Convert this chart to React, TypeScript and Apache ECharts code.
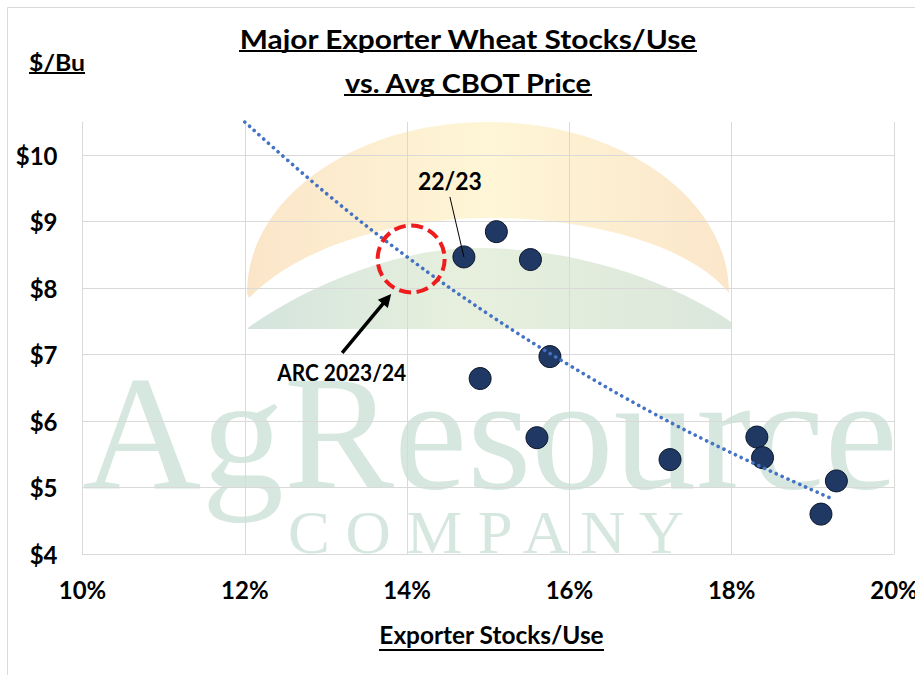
import React, { useEffect, useRef } from 'react';
import * as echarts from 'echarts';

// ---- data ----
const xTickValues = [10, 12, 14, 16, 18, 20];
const yTickValues = [4, 5, 6, 7, 8, 9, 10];
const stocksUse = [14.7, 15.1, 15.52, 15.76, 14.9, 15.6, 17.24, 18.31, 18.38, 19.29, 19.1];
const cbotPrice = [8.47, 8.85, 8.43, 6.97, 6.64, 5.75, 5.42, 5.76, 5.45, 5.1, 4.6];
const trendStocksUse = [12, 13, 14, 15, 16, 17, 18, 19.2];
const trendPrice = [10.5, 9.43, 8.47, 7.61, 6.84, 6.14, 5.52, 4.85];
const arcStocksUse = [14.05];
const arcPrice = [8.44];
const titleLines = ['Major Exporter Wheat Stocks/Use', 'vs. Avg CBOT Price'];
const yAxisTitle = '$/Bu';
const xAxisTitle = 'Exporter Stocks/Use';
const label2223 = '22/23';
const labelArc = 'ARC 2023/24';

const FONT = 'Lato, "Liberation Sans Narrow", "DejaVu Sans Condensed", sans-serif';
const SERIF = '"Liberation Serif", "DejaVu Serif", serif';
const WM = '#d6e7df';

const SUN_D =
  'M247 293 C247 198.6 354.9 122 488 122 C621.1 122 729 198.6 729 293 ' +
  'C690 245 590 218 489 218 C400 218 300 245 249 298 L247 293 Z';
const HILL_D = 'M248 328 C300 290 390 250 470 248 C570 246 670 280 731 322 L731 329 L248 329 Z';

try {
  echarts.graphic.registerShape('arcSun', echarts.graphic.extendPath(SUN_D, {}) as any);
  echarts.graphic.registerShape('arcHill', echarts.graphic.extendPath(HILL_D, {}) as any);
} catch (e) {
  /* already registered */
}

function measure(text: string, size: number, family: string, weight: string) {
  const ctx = document.createElement('canvas').getContext('2d')!;
  ctx.font = `${weight} ${size}px ${family}`;
  return ctx.measureText(text).width || 1;
}

function fitText(
  text: string,
  cx: number,
  cy: number,
  size: number,
  width: number,
  opts: { family?: string; weight?: string; fill?: string; z?: number; underlineY?: number } = {}
) {
  const family = opts.family || FONT;
  const weight = opts.weight || 'bold';
  const s = width / measure(text, size, family, weight);
  const els: any[] = [
    {
      type: 'text',
      x: cx,
      y: cy,
      scaleX: s,
      z: opts.z ?? 20,
      silent: true,
      style: {
        text,
        x: 0,
        y: 0,
        align: 'center',
        verticalAlign: 'middle',
        fontSize: size,
        fontFamily: family,
        fontWeight: weight,
        fill: opts.fill || '#000',
      },
    },
  ];
  if (opts.underlineY !== undefined) {
    els.push({
      type: 'line',
      z: opts.z ?? 20,
      silent: true,
      shape: { x1: cx - width / 2, y1: opts.underlineY, x2: cx + width / 2, y2: opts.underlineY },
      style: { stroke: '#000', lineWidth: 2 },
    });
  }
  return els;
}

export default function App() {
  const ref = useRef<HTMLDivElement>(null);

  useEffect(() => {
    if (!ref.current) return;
    document.body.style.margin = '0';
    const chart = echarts.init(ref.current, null, { renderer: 'svg' });

    const labelStyle = {
      color: '#000',
      fontWeight: 'bold' as const,
      fontSize: 24,
      fontFamily: FONT,
    };

    chart.setOption({
      animation: false,
      backgroundColor: '#fff',
      grid: { left: 82.5, right: 21, top: 122, bottom: 121, containLabel: false, outerBoundsMode: 'none' },
      xAxis: {
        type: 'value',
        min: xTickValues[0],
        max: xTickValues[xTickValues.length - 1],
        interval: 2,
        axisLine: { show: true, lineStyle: { color: '#d9d9d9', width: 1 } },
        axisTick: { show: false },
        splitLine: { show: true, lineStyle: { color: '#d9d9d9', width: 1 } },
        axisLabel: { ...labelStyle, margin: 23, formatter: (v: number) => `${v}%` },
      },
      yAxis: {
        type: 'value',
        min: yTickValues[0],
        max: 10.5,
        interval: 1,
        axisLine: { show: true, lineStyle: { color: '#d9d9d9', width: 1 } },
        axisTick: { show: false },
        splitLine: {
          show: true,
          lineStyle: {
            color: ['#d9d9d9', '#d9d9d9', '#d9d9d9', '#d9d9d9', '#d9d9d9', '#d9d9d9', '#d9d9d9', 'rgba(0,0,0,0)'],
            width: 1,
          },
        },
        axisLabel: {
          ...labelStyle,
          margin: 25,
          formatter: (v: number) => (yTickValues.includes(v) ? `$${v}` : ''),
        },
      },
      series: [
        {
          type: 'scatter',
          silent: true,
          z: 2,
          symbolSize: 22,
          itemStyle: { color: '#1f3864', borderColor: '#0b162b', borderWidth: 1, opacity: 1 },
          data: stocksUse.map((x, i) => [x, cbotPrice[i]]),
        },
        {
          type: 'line',
          silent: true,
          z: 3,
          smooth: 0.4,
          symbol: 'none',
          showSymbol: false,
          lineStyle: { color: '#4472c4', width: 3.6, type: [0.1, 6.3], cap: 'round' },
          data: trendStocksUse.map((x, i) => [x, trendPrice[i]]),
        },
        {
          type: 'scatter',
          silent: true,
          z: 4,
          symbolSize: 67,
          itemStyle: {
            color: 'rgba(0,0,0,0)',
            borderColor: '#ee1c1c',
            borderWidth: 4,
            borderType: [12, 5.5],
            opacity: 1,
          },
          data: arcStocksUse.map((x, i) => [x, arcPrice[i]]),
        },
      ],
    });

    const p2223 = chart.convertToPixel({ gridIndex: 0 }, [stocksUse[0], cbotPrice[0]]) as number[];
    const pArc = chart.convertToPixel({ gridIndex: 0 }, [arcStocksUse[0], arcPrice[0]]) as number[];

    // arrow geometry
    const tail = [pArc[0] - 69, pArc[1] + 94];
    const tip = [pArc[0] - 20, pArc[1] + 35];
    const dx = tip[0] - tail[0];
    const dy = tip[1] - tail[1];
    const len = Math.hypot(dx, dy);
    const ux = dx / len;
    const uy = dy / len;
    const headL = 13;
    const headW = 6.5;
    const base = [tip[0] - ux * headL, tip[1] - uy * headL];

    const sunGrad = new echarts.graphic.LinearGradient(0, 0, 1, 0, [
      { offset: 0, color: '#fbe5c9' },
      { offset: 0.5, color: '#fef6d6' },
      { offset: 1, color: '#fbe6ca' },
    ]);
    const hillGrad = new echarts.graphic.LinearGradient(0, 0, 1, 0, [
      { offset: 0, color: '#d4e4dd' },
      { offset: 0.45, color: '#e7f0dd' },
      { offset: 1, color: '#dbe7dc' },
    ]);

    const graphics: any[] = [
      {
        type: 'rect',
        silent: true,
        z: -10,
        shape: { x: 7.5, y: 7.5, width: 1000, height: 1000 },
        style: { fill: 'none', stroke: '#d9d9d9', lineWidth: 1 },
      },
      { type: 'arcSun', x: 0, y: 0, scaleX: 1, scaleY: 1, z: -5, silent: true, style: { fill: sunGrad } },
      { type: 'arcHill', x: 0, y: 0, scaleX: 1, scaleY: 1, z: -5, silent: true, style: { fill: hillGrad } },
      ...fitText('AgResource', 490, 433, 163, 815, { family: SERIF, weight: 'normal', fill: WM, z: -4 }),
      ...fitText('C O M P A N Y', 486, 532, 62, 408, { family: SERIF, weight: 'normal', fill: WM, z: -4 }),
      ...fitText(titleLines[0], 468, 38.5, 27, 458, { underlineY: 51 }),
      ...fitText(titleLines[1], 468, 82, 27, 248, { underlineY: 95 }),
      ...fitText(yAxisTitle, 57, 62.5, 22, 56, { underlineY: 73 }),
      ...fitText(xAxisTitle, 491.5, 634.5, 24, 225, { underlineY: 650 }),
      ...fitText(label2223, p2223[0] - 14, p2223[1] - 76, 24, 64),
      {
        type: 'line',
        silent: true,
        z: 20,
        shape: { x1: p2223[0] - 14, y1: p2223[1] - 60, x2: p2223[0], y2: p2223[1] },
        style: { stroke: '#000', lineWidth: 1 },
      },
      ...fitText(labelArc, pArc[0] - 69.5, pArc[1] + 114, 22, 129),
      {
        type: 'line',
        silent: true,
        z: 20,
        shape: { x1: tail[0], y1: tail[1], x2: base[0] + ux, y2: base[1] + uy },
        style: { stroke: '#000', lineWidth: 3.5 },
      },
      {
        type: 'polygon',
        silent: true,
        z: 20,
        shape: {
          points: [
            [tip[0], tip[1]],
            [base[0] - uy * headW, base[1] + ux * headW],
            [base[0] + uy * headW, base[1] - ux * headW],
          ],
        },
        style: { fill: '#000' },
      },
    ];

    chart.setOption({ graphic: graphics });

    return () => chart.dispose();
  }, []);

  return <div ref={ref} style={{ position: 'absolute', left: 0, top: 0, width: 915, height: 675 }} />;
}
